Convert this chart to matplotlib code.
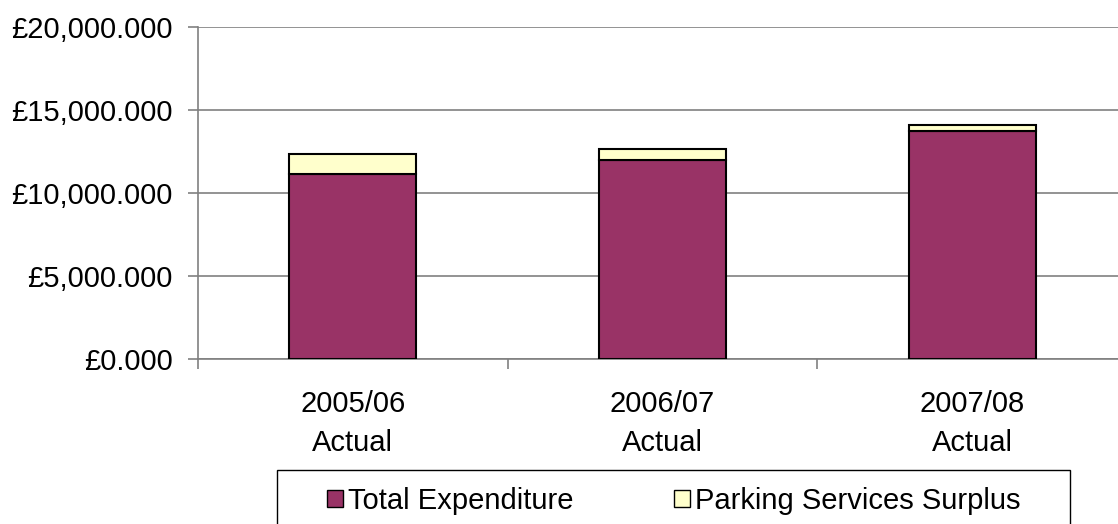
import matplotlib
matplotlib.use("Agg")
import matplotlib.pyplot as plt
from matplotlib.patches import Patch, Rectangle
from matplotlib.ticker import FuncFormatter, FixedLocator

categories = ["2005/06\nActual", "2006/07\nActual", "2007/08\nActual"]
# values in £ thousands
total_expenditure = [11130, 11970, 13750]
parking_surplus = [1200, 660, 330]
yticks = [0, 5000, 10000, 15000, 20000]

plt.rcParams['font.family'] = ['Liberation Sans', 'DejaVu Sans']
FS = 21
LFS = 21

W, H = 1118, 524
fig = plt.figure(figsize=(W / 100, H / 100), dpi=100)
ax = fig.add_axes([198 / W, (H - 359) / H, 929 / W, (359 - 26.7) / H])

purple = "#993366"
cream = "#FFFFCC"
x = list(range(len(categories)))
ax.bar(x, total_expenditure, width=0.41, color=purple, edgecolor="black", linewidth=1.5, zorder=3)
ax.bar(x, parking_surplus, width=0.41, bottom=total_expenditure, color=cream,
       edgecolor="black", linewidth=1.5, zorder=3)

ax.set_xlim(-0.5, 2.5)
ax.set_ylim(0, 20000)
ax.set_yticks(yticks)
ax.yaxis.set_major_formatter(FuncFormatter(lambda v, p: "£{:,.3f}".format(v)))
ax.grid(axis='y', color="#808080", linewidth=1.2, zorder=0)
ax.set_axisbelow(True)

ax.set_xticks(x)
ax.set_xticklabels(categories, fontsize=FS, linespacing=1.5)
ax.xaxis.set_minor_locator(FixedLocator([-0.5, 0.5, 1.5, 2.5]))
ax.tick_params(axis='x', which='major', length=0, pad=22)
ax.tick_params(axis='x', which='minor', length=7, color="#808080", width=1.2, direction='out')
ax.tick_params(axis='y', which='major', length=7, color="#808080", width=1.2, pad=11, labelsize=FS)

for s in ['top', 'right']:
    ax.spines[s].set_visible(False)
for s in ['left', 'bottom']:
    ax.spines[s].set_color("#808080")
    ax.spines[s].set_linewidth(1.2)

# legend frame
fig.patches.append(Rectangle((277 / W, 0 - 0.01), (1070 - 277) / W, (H - 470) / H + 0.01,
                             transform=fig.transFigure, facecolor="white", edgecolor="black",
                             linewidth=1.0, zorder=1))
handles = [Patch(facecolor=purple, edgecolor="black", linewidth=1.0, label="Total Expenditure"),
           Patch(facecolor=cream, edgecolor="black", linewidth=1.0, label="Parking Services Surplus")]
leg = fig.legend(handles=handles, loc='center left', bbox_to_anchor=(327 / W, 1 - 501 / H),
                 ncol=2, fontsize=LFS, frameon=False,
                 handlelength=0.55, handleheight=0.55, handletextpad=0.17, columnspacing=3.45,
                 borderpad=0, borderaxespad=0)
leg.set_zorder(2)

fig.savefig("out.png", dpi=100)
